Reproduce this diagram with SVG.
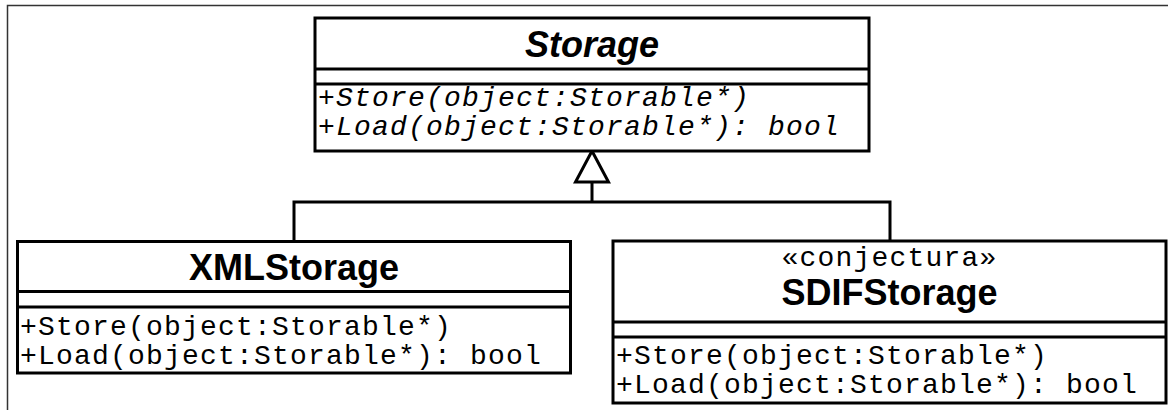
<svg xmlns="http://www.w3.org/2000/svg" width="1168" height="410" viewBox="0 0 1168 410">
  <style>
    .box { fill: #ffffff; stroke: #000000; stroke-width: 3; }
    .sep { stroke: #000000; stroke-width: 3; }
    .frame { stroke: #333333; stroke-width: 1.5; fill: none; }
    .edge { stroke: #000000; stroke-width: 3; fill: none; }
    .title { font-family: "Liberation Sans", Arial, sans-serif; font-weight: bold; font-size: 36px; text-anchor: middle; fill: #000; }
    .abstract { font-style: italic; }
    .stereo { font-family: "Liberation Mono", "Courier New", monospace; font-size: 28px; letter-spacing: 1.2px; text-anchor: middle; fill: #000; }
    .op { font-family: "Liberation Mono", "Courier New", monospace; font-size: 28px; letter-spacing: 1.2px; fill: #000; }
    .op-abstract { font-style: italic; }
  </style>

  <!-- page frame -->
  <path class="frame" d="M7.5,410 V5.5 H1168"/>

  <!-- generalization connectors -->
  <g id="connectors">
    <path class="edge" d="M294,241 V202 H890 V240"/>
    <path class="edge" d="M592,202 V182"/>
    <polygon class="edge" fill="#ffffff" points="592,151 575.5,182 608.5,182"/>
  </g>

  <!-- abstract class Storage -->
  <g id="storage">
    <rect class="box" x="315" y="18" width="554" height="133"/>
    <line class="sep" x1="315" y1="69" x2="869" y2="69"/>
    <line class="sep" x1="315" y1="84" x2="869" y2="84"/>
    <text class="title abstract" x="592" y="57">Storage</text>
    <text class="op op-abstract" x="318" y="106">+Store(object:Storable*)</text>
    <text class="op op-abstract" x="318" y="135">+Load(object:Storable*): bool</text>
  </g>

  <!-- class XMLStorage -->
  <g id="xmlstorage">
    <rect class="box" x="17.5" y="241.5" width="553" height="131.5"/>
    <line class="sep" x1="17.5" y1="291.5" x2="570.5" y2="291.5"/>
    <line class="sep" x1="17.5" y1="307" x2="570.5" y2="307"/>
    <text class="title" x="294" y="280">XMLStorage</text>
    <text class="op" x="20" y="335">+Store(object:Storable*)</text>
    <text class="op" x="20" y="364">+Load(object:Storable*): bool</text>
  </g>

  <!-- class SDIFStorage -->
  <g id="sdifstorage">
    <rect class="box" x="613" y="241" width="553" height="162"/>
    <line class="sep" x1="613" y1="322" x2="1166" y2="322"/>
    <line class="sep" x1="613" y1="337" x2="1166" y2="337"/>
    <text class="stereo" x="889.5" y="266">«conjectura»</text>
    <text class="title" x="889.5" y="305">SDIFStorage</text>
    <text class="op" x="616" y="364">+Store(object:Storable*)</text>
    <text class="op" x="616" y="393">+Load(object:Storable*): bool</text>
  </g>
</svg>
